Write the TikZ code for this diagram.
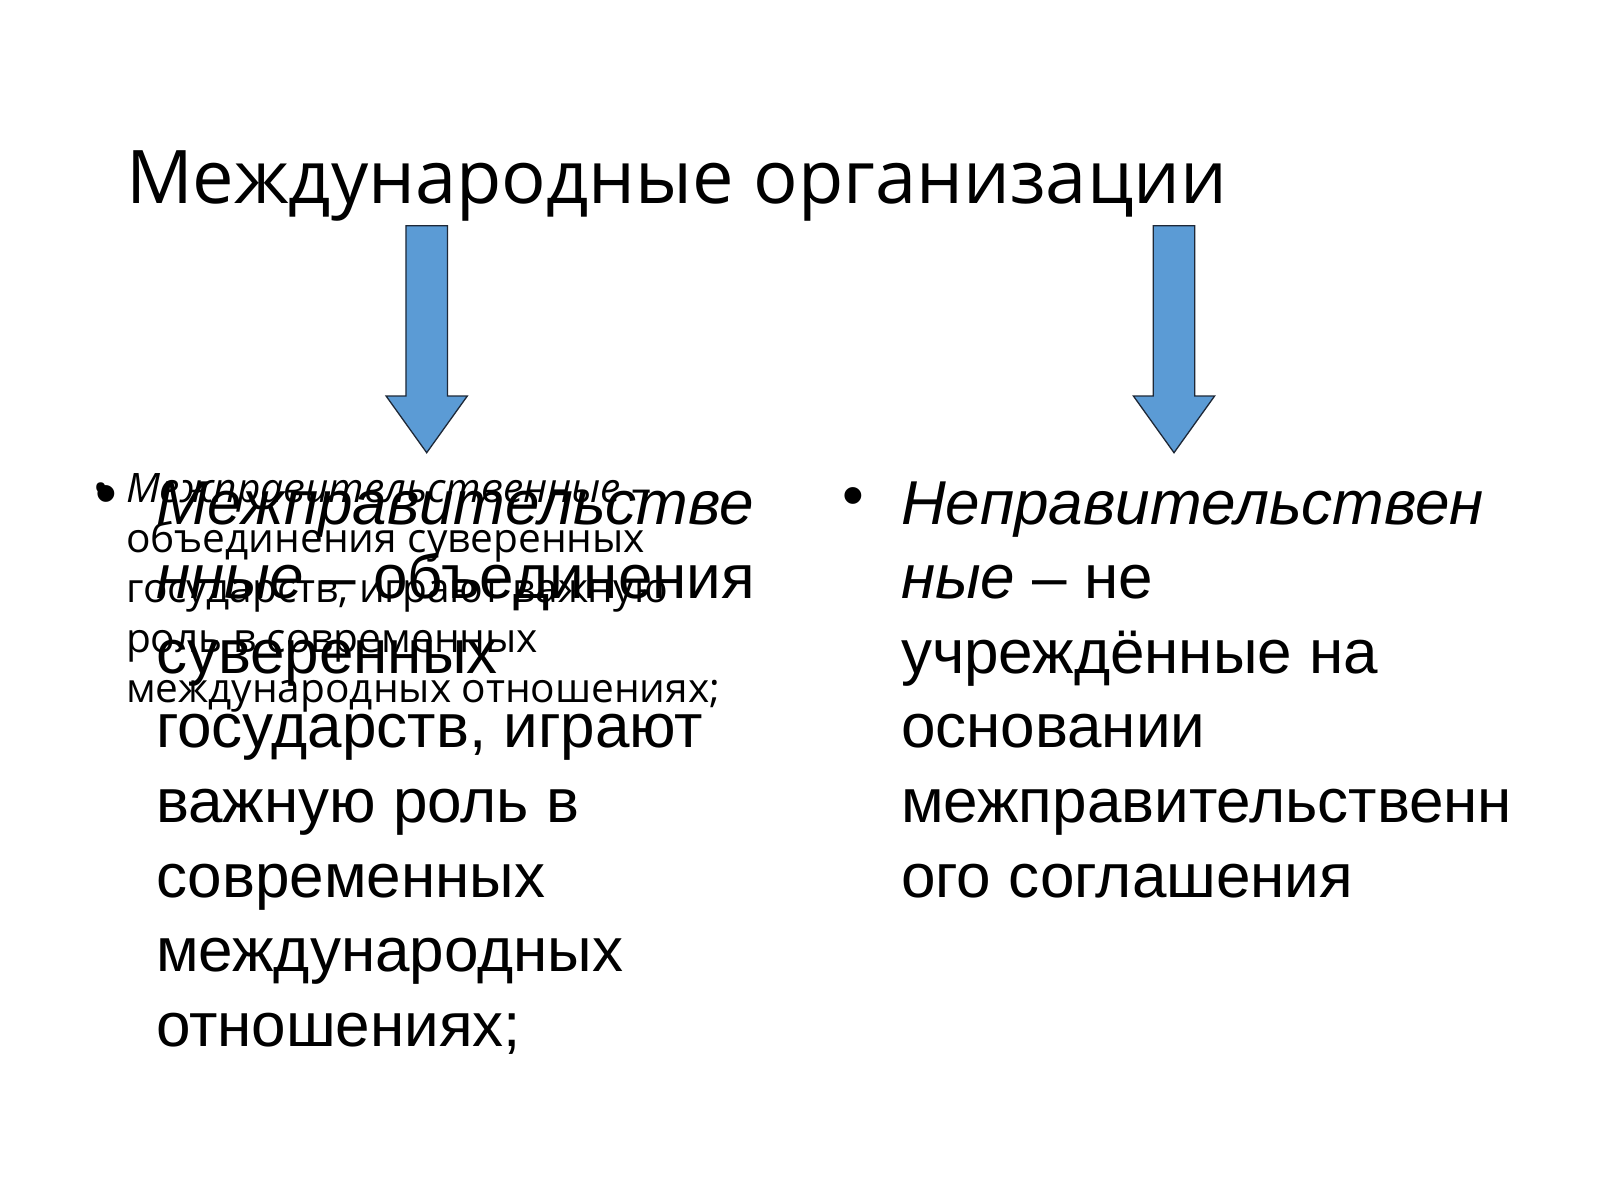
\documentclass[tikz,border=0pt]{standalone}
\usepackage{fontspec}
\setmainfont{Liberation Sans}
\newfontfamily\opensans{Open Sans}
\definecolor{arrowblue}{RGB}{91,155,213}
\definecolor{arrowline}{RGB}{30,40,55}
\begin{document}
\begin{tikzpicture}[x=1pt,y=-1pt,
  txt/.style={inner sep=0pt,outer sep=0pt,anchor=base west},
  bigtxt/.style={txt,font=\fontsize{62}{74.6}\selectfont},
  smalltxt/.style={txt,font=\opensans\fontsize{40.6}{50}\selectfont},
  titletxt/.style={txt,font=\opensans\fontsize{74}{88}\selectfont},
  downarrow/.style={fill=arrowblue,draw=arrowline,line width=1.3pt,line join=miter}]
\useasboundingbox[fill=white] (0,0) rectangle (1600,1200);

% title
\node[titletxt] (title) at (126,203) {Международные организации};

% arrows
\foreach \cx/\nm in {426.7/arrL,1174/arrR}{
  \draw[downarrow] (\cx-20.8,225.7) -- (\cx+20.8,225.7) -- (\cx+20.8,396)
    -- (\cx+40.6,396) -- (\cx,452.7) -- (\cx-40.6,396) -- (\cx-20.8,396) -- cycle;
  \coordinate (\nm) at (\cx,452.7);
}

% small overlapping text (left)
\node[smalltxt] (sb) at (93,502) {•};
\foreach \t [count=\i] in {{\itshape Межправительственные} –,
  объединения суверенных,
  {государств, играют важную},
  роль в современных,
  международных отношениях;}{
  \node[smalltxt] (s\i) at (126,502+50*\i-50) {\t};
}

% large text (left)
\node[bigtxt] (lb) at (95,514) {•};
\foreach \t [count=\i] in {{\itshape Межправительстве},
  {{\itshape нные} – объединения},
  суверенных,
  {государств, играют},
  важную роль в,
  современных,
  международных,
  отношениях;}{
  \node[bigtxt] (l\i) at (156,524+74.6*\i-74.6) {\t};
}

% large text (right)
\node[bigtxt] (rb) at (842,516) {•};
\foreach \t [count=\i] in {{\itshape Неправительствен},
  {{\itshape ные} – не},
  учреждённые на,
  основании,
  межправительственн,
  ого соглашения}{
  \node[bigtxt] (r\i) at (901,524+74.6*\i-74.6) {\t};
}
\end{tikzpicture}
\end{document}
